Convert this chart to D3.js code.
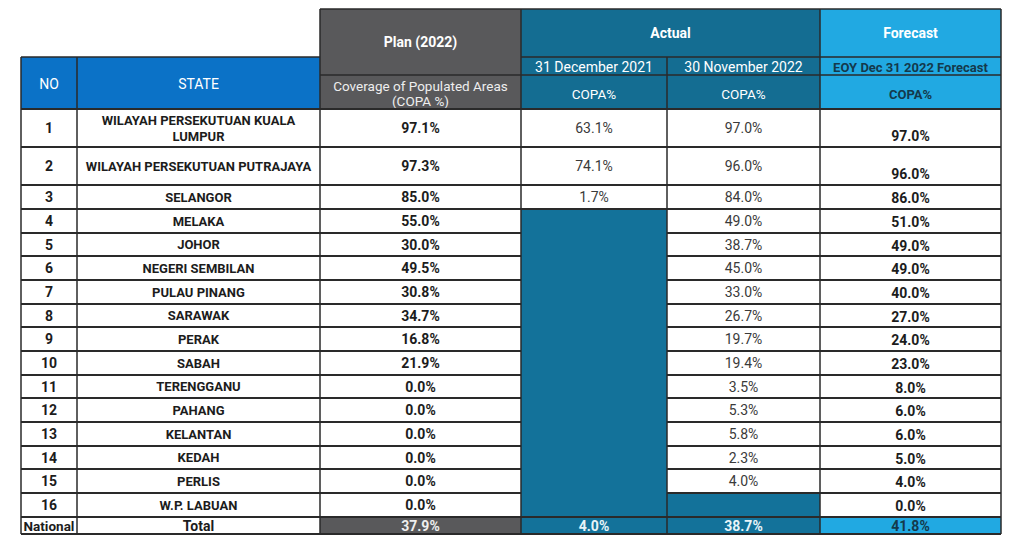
<!DOCTYPE html>
<html>
<head>
<meta charset="utf-8">
<script src="https://cdn.jsdelivr.net/npm/d3@7"></script>
<style>
  html, body { margin: 0; padding: 0; background: #fff; }
  svg { display: block; font-family: Roboto, "Open Sans", sans-serif; }
</style>
</head>
<body>
<svg id="chart" width="1024" height="553"></svg>
<script>
// table content
var rowNo = ["1", "2", "3", "4", "5", "6", "7", "8", "9", "10", "11", "12", "13", "14", "15", "16"];
var states = [
  ["WILAYAH PERSEKUTUAN KUALA", "LUMPUR"],
  ["WILAYAH PERSEKUTUAN PUTRAJAYA"],
  ["SELANGOR"], ["MELAKA"], ["JOHOR"], ["NEGERI SEMBILAN"], ["PULAU PINANG"],
  ["SARAWAK"], ["PERAK"], ["SABAH"], ["TERENGGANU"], ["PAHANG"], ["KELANTAN"],
  ["KEDAH"], ["PERLIS"], ["W.P. LABUAN"]
];
var planCopa = ["97.1%", "97.3%", "85.0%", "55.0%", "30.0%", "49.5%", "30.8%", "34.7%",
  "16.8%", "21.9%", "0.0%", "0.0%", "0.0%", "0.0%", "0.0%", "0.0%"];
// null = filled cell, no value reported
var dec2021Copa = ["63.1%", "74.1%", "1.7%", null, null, null, null, null,
  null, null, null, null, null, null, null, null];
var nov2022Copa = ["97.0%", "96.0%", "84.0%", "49.0%", "38.7%", "45.0%", "33.0%", "26.7%",
  "19.7%", "19.4%", "3.5%", "5.3%", "5.8%", "2.3%", "4.0%", null];
var forecastCopa = ["97.0%", "96.0%", "86.0%", "51.0%", "49.0%", "49.0%", "40.0%", "27.0%",
  "24.0%", "23.0%", "8.0%", "6.0%", "6.0%", "5.0%", "4.0%", "0.0%"];
var totals = { no: "National", state: "Total", plan: "37.9%", dec: "4.0%", nov: "38.7%", fc: "41.8%" };

var colKeys = ["no", "state", "plan", "dec", "nov", "fc"];
var colEdges = [21, 77, 320, 521, 667, 820, 1001];

var C = {
  gray: "#59595b",
  teal: "#13729a",
  tealHead: "#146d92",
  blue: "#0b72c7",
  light: "#21a9e2",
  line: "#2a2a2a",
  dark: "#1c1c1c",
  val: "#3a3a3a",
  fcText: "#14394c"
};

var svg = d3.select("#chart");

var xL = d3.scaleOrdinal().domain(colKeys).range(colEdges.slice(0, 6));
var xR = d3.scaleOrdinal().domain(colKeys).range(colEdges.slice(1));
function cx(k) { return (xL(k) + xR(k)) / 2; }

// row geometry: two tall rows then regular rows
var rowTops = [109, 147, 185];
var rowH = (493 - 209) / 12;
for (var i = 0; i < 14; i++) rowTops.push(Math.round(209 + i * rowH));
// rowTops[16] is total row top
var totalTop = rowTops[16], totalBot = 534;
var y0 = d3.scaleOrdinal().domain(d3.range(17)).range(rowTops);
function rowBot(i) { return i < 16 ? rowTops[i + 1] : totalBot; }

var gFill = svg.append("g"), gText = svg.append("g"), gLine = svg.append("g");

function rect(x1, y1, x2, y2, fill) {
  gFill.append("rect").attr("x", x1).attr("y", y1)
    .attr("width", x2 - x1).attr("height", y2 - y1).attr("fill", fill);
}
function text(x, y, s, o) {
  o = o || {};
  gText.append("text").attr("x", x).attr("y", y)
    .attr("text-anchor", "middle").attr("dominant-baseline", "central")
    .attr("font-size", o.size || 13.5).attr("font-weight", o.bold ? 700 : 400)
    .attr("fill", o.fill || C.dark).text(s);
}
function line(x1, y1, x2, y2, w) {
  gLine.append("line").attr("x1", x1).attr("y1", y1).attr("x2", x2).attr("y2", y2)
    .attr("stroke", C.line).attr("stroke-width", w || 1.5);
}

// header fills
rect(xL("no"), 57, xR("state"), 109, C.blue);
rect(xL("plan"), 9, xR("plan"), 109, C.gray);
rect(xL("dec"), 9, xR("nov"), 109, C.tealHead);
rect(xL("fc"), 9, xR("fc"), 109, C.light);

// header texts
text(cx("no"), 84, "NO", { fill: "#fff", size: 14 });
text(cx("state"), 84, "STATE", { fill: "#fff", size: 14 });
text(cx("plan"), 42, "Plan (2022)", { bold: true, fill: "#fff", size: 14 });
text(cx("plan"), 86, "Coverage of Populated Areas", { fill: "#eee" });
text(cx("plan"), 101, "(COPA %)", { fill: "#eee" });
text((xL("dec") + xR("nov")) / 2, 33, "Actual", { bold: true, fill: "#fff", size: 14 });
text(cx("dec"), 67, "31 December 2021", { fill: "#fff", size: 14 });
text(cx("nov"), 67, "30 November 2022", { fill: "#fff", size: 14 });
text(cx("dec"), 94, "COPA%", { fill: "#fff" });
text(cx("nov"), 94, "COPA%", { fill: "#fff" });
text(cx("fc"), 33, "Forecast", { bold: true, fill: "#fff", size: 14 });
text(cx("fc"), 67, "EOY Dec 31 2022 Forecast", { bold: true, size: 13, fill: C.fcText });
text(cx("fc"), 94, "COPA%", { bold: true, size: 13, fill: C.fcText });

// filled blocks: one rect per run of empty cells, so no seams
function fillRuns(vals, k) {
  var start = null;
  vals.concat(["end"]).forEach(function(v, i) {
    if (v == null && start == null) start = i;
    if (v != null && start != null) {
      rect(xL(k), y0(start), xR(k), rowBot(i - 1), C.teal);
      start = null;
    }
  });
}
fillRuns(dec2021Copa, "dec");
fillRuns(nov2022Copa, "nov");

// data rows
rowNo.forEach(function(n, i) {
  var top = y0(i), bot = rowBot(i), mid = (top + bot) / 2;
  var tall = bot - top > 30;
  text(cx("no"), mid, n, { bold: true, size: 14 });
  var st = states[i];
  if (st.length == 2) {
    text(cx("state"), mid - 8, st[0], { bold: true, size: 13 });
    text(cx("state"), mid + 8, st[1], { bold: true, size: 13 });
  } else {
    text(cx("state"), mid, st[0], { bold: true, size: 13 });
  }
  text(cx("plan"), mid, planCopa[i], { bold: true, size: 14 });
  if (dec2021Copa[i] != null) text(cx("dec"), mid, dec2021Copa[i], { fill: C.val, size: 14 });
  if (nov2022Copa[i] != null) text(cx("nov"), mid, nov2022Copa[i], { fill: C.val, size: 14 });
  text(cx("fc"), tall ? mid + 8 : mid + 1, forecastCopa[i], { bold: true, size: 14 });
});

// total row
var tm = (totalTop + totalBot) / 2;
rect(xL("plan"), totalTop, xR("plan"), totalBot, C.gray);
rect(xL("dec"), totalTop, xR("nov"), totalBot, C.teal);
rect(xL("fc"), totalTop, xR("fc"), totalBot, C.light);
text(cx("no"), tm, totals.no, { bold: true, size: 13.5 });
text(cx("state"), tm, totals.state, { bold: true, size: 14 });
text(cx("plan"), tm, totals.plan, { bold: true, fill: "#eee", size: 14 });
text(cx("dec"), tm, totals.dec, { bold: true, fill: "#e8f4f8", size: 14 });
text(cx("nov"), tm, totals.nov, { bold: true, fill: "#e8f4f8", size: 14 });
text(cx("fc"), tm, totals.fc, { bold: true, fill: C.fcText, size: 14 });

// grid lines
var left = xL("no"), right = xR("fc");
line(xL("plan"), 9, right, 9, 1.5);
line(left, 57, xR("state"), 57, 1.5);
line(xL("dec"), 57, right, 57, 1.5);
line(xL("plan"), 75, right, 75, 1.5);
line(left, 109, right, 109, 2);
// row boundaries, skipped where both neighbouring cells are filled
var colVals = { dec: dec2021Copa, nov: nov2022Copa };
rowTops.slice(1).forEach(function(y, j) {
  var i = j + 1;
  colKeys.forEach(function(k) {
    var v = colVals[k];
    if (v && i < 16 && v[i - 1] == null && v[i] == null) return;
    line(xL(k), y, xR(k), y, 2);
  });
});
line(left, totalBot, right, totalBot, 2);
// verticals
line(left, 57, left, totalBot, 1.5);
line(xL("state"), 57, xL("state"), totalBot, 1.5);
line(xL("plan"), 9, xL("plan"), totalBot, 1.5);
line(xL("dec"), 9, xL("dec"), totalBot, 1.5);
line(xL("nov"), 57, xL("nov"), totalBot, 1.5);
line(xL("fc"), 9, xL("fc"), totalBot, 1.5);
line(right, 9, right, totalBot, 1.5);
</script>
</body>
</html>
